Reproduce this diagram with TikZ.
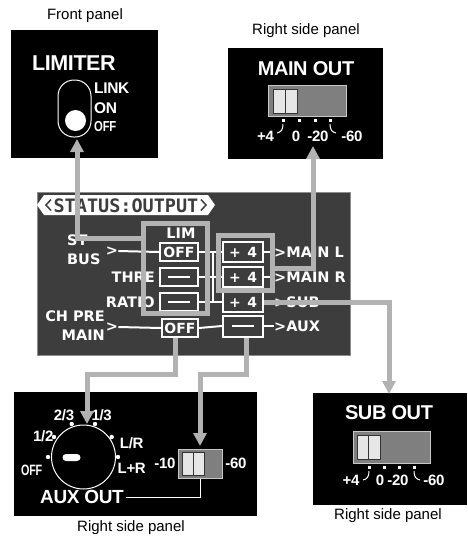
\documentclass[tikz,border=0pt]{standalone}
\usepackage{fontspec}
\setmainfont{Liberation Sans}
\newfontfamily\hbfont[LetterSpace=-2]{Liberation Sans}
\newfontfamily\lcdfont{DejaVu Sans}
\newfontfamily\lcdmonofont{DejaVu Sans Mono}
\usetikzlibrary{arrows.meta}
\definecolor{lcdbg}{HTML}{3D3D3D}
\definecolor{lcdedge}{HTML}{8C8C8C}
\definecolor{guide}{HTML}{B2B2B2}
\definecolor{swbodycol}{HTML}{7F7F7F}
\definecolor{swedgecol}{HTML}{C8C8C8}
\definecolor{swlightcol}{HTML}{E6E6E6}
\definecolor{swlinecol}{HTML}{333333}
\begin{document}
\begin{tikzpicture}[x=1pt,y=-1pt,
 caption/.style={font=\fontsize{15}{17}\selectfont, inner sep=0},
 ptitle/.style={font=\hbfont\bfseries\fontsize{20}{22}\selectfont, text=white, inner sep=0},
 plabel/.style={font=\hbfont\bfseries\fontsize{15}{17}\selectfont, text=white, inner sep=0},
 klabel/.style={font=\hbfont\bfseries\fontsize{15}{17}\selectfont, text=white, inner sep=0},
 lcdtext/.style={font=\lcdfont\bfseries\fontsize{14.5}{19}\selectfont, text=white, inner sep=0},
 lcdbox/.style={draw=white, line width=2pt, minimum width=38pt, minimum height=18pt, inner sep=0, font=\lcdfont\bfseries\fontsize{14}{16}\selectfont, text=white},
 wire/.style={white, line width=2pt},
 thinwire/.style={white, line width=1pt},
 guideframe/.style={draw=guide, line width=5pt, inner sep=0},
 guidearrow/.style={guide, line width=5pt, -{Triangle[width=13pt,length=13pt]}},
 switchbody/.style={fill=swbodycol, draw=swedgecol, line width=1pt, inner sep=0},
 switchknob/.style={fill=swlightcol, draw=swlinecol, line width=1pt},
]
\useasboundingbox (0,0) rectangle (467,539);

% captions
\node[caption] (capfront) at (85,16) {Front panel};
\node[caption] (capmain) at (306,31) {Right side panel};
\node[caption] (capaux) at (131,528) {Right side panel};
\node[caption] (capsub) at (388,516) {Right side panel};

% ---------- Front panel ----------
\fill[black] (11,30) rectangle (158,158);
\node[ptitle, anchor=west, font=\hbfont\bfseries\fontsize{21.5}{24}\selectfont] (limiter) at (32,63) {LIMITER};
\node[draw=white, line width=1pt, fill=black, rounded corners=16pt, minimum width=33pt, minimum height=57pt, inner sep=0] (toggle) at (74.5,108.5) {};
\fill[white] (75.5,120.5) circle (10.5);
\node[plabel, anchor=west, font=\hbfont\bfseries\fontsize{15.5}{17}\selectfont] (link) at (94,88) {LINK};
\node[plabel, anchor=west, font=\hbfont\bfseries\fontsize{15.5}{17}\selectfont] (on) at (94,108) {ON};
\node[plabel, anchor=west, font=\hbfont\bfseries\fontsize{14.5}{17}\selectfont] (off) at (94,127) {\scalebox{0.78}[1]{OFF}};

% ---------- MAIN OUT panel ----------
\fill[black] (228,48) rectangle (383,159);
\node[ptitle] (mainout) at (306,69) {MAIN OUT};
\node[switchbody, minimum width=78pt, minimum height=31pt] (msw) at (307,100.5) {};
\draw[switchknob] (273,89) rectangle (297,113);
\draw[swlinecol, line width=1pt] (285,89) -- (285,113);
\foreach \xx in {283,299,315,330} \fill[white] (\xx-1.5,118.5) rectangle (\xx+1.5,121.5);
\draw[thinwire] (283,124) .. controls (283,130) and (281,132) .. (277,133);
\draw[thinwire] (330,124) .. controls (330,130) and (332,132) .. (336,133);
\node[plabel] (m4) at (265.5,136) {+4};
\node[plabel] (m0) at (296,136) {0};
\node[plabel] (m20) at (318,136) {-20};
\node[plabel] (m60) at (352,136) {-60};

% ---------- LCD ----------
\draw[lcdedge, fill=lcdbg, line width=1pt] (37,192) rectangle (350,355);
\fill[white] (37,205) -- (44,195) -- (208,195) -- (215,205) -- (208,215) -- (44,215) -- cycle;
\draw[lcdbg, line width=1.5pt] (51,199.5) -- (46,205) -- (51,210.5);
\draw[lcdbg, line width=1.5pt] (201,199.5) -- (206,205) -- (201,210.5);
\node[font=\lcdmonofont\bfseries\fontsize{18.5}{20}\selectfont, text=lcdbg, inner sep=0] (banner) at (126,205.5) {STATUS:OUTPUT};

\node[lcdtext] (limlbl) at (181,233) {LIM};
\node[lcdtext, anchor=west, align=left] (stbus) at (67,250) {ST\\BUS};
\node[lcdtext] (stgt) at (112,251) {>};
\node[lcdtext, anchor=east] (threl) at (155,277) {THRE};
\node[lcdtext, anchor=east] (ratiol) at (155,302) {RATIO};
\node[lcdtext, anchor=east, align=right] (chpre) at (105,326) {CH PRE\\MAIN};
\node[lcdtext] (chgt) at (112,327) {>};

\node[lcdbox] (limoff) at (179,252) {OFF};
\node[lcdbox] (thre) at (179,277) {\rule{22pt}{2pt}};
\node[lcdbox] (ratio) at (179,302) {\rule{22pt}{2pt}};
\node[lcdbox, minimum width=36pt] (auxoff) at (180,328) {OFF};
\node[lcdbox, minimum width=40pt, minimum height=20pt] (mainl) at (243,252) {\makebox[28pt]{+\hfill4}};
\node[lcdbox, minimum width=40pt, minimum height=20pt] (mainr) at (243,277) {\makebox[28pt]{+\hfill4}};
\node[lcdbox, minimum width=40pt, minimum height=20pt] (subb) at (243,302) {\makebox[28pt]{+\hfill4}};
\node[lcdbox, minimum width=40pt, minimum height=21pt] (auxb) at (243,326) {\rule{22pt}{2pt}};

\node[lcdtext, anchor=west] (tmainl) at (274,252) {>MAIN L};
\node[lcdtext, anchor=west] (tmainr) at (274,277) {>MAIN R};
\node[lcdtext, anchor=west] (tsub) at (274,302) {>SUB};
\node[lcdtext, anchor=west] (taux) at (274,326) {>AUX};

\draw[wire] (stgt.east) -- (limoff.west);
\draw[wire] (chgt.east) -- (auxoff.west);
\draw[wire] (limoff.east) -- (mainl.west);
\draw[wire] (thre.east) -- (mainr.west);
\draw[wire] (ratio.east) -- (subb.west);
\coordinate (bustop) at (213,252);
\coordinate (busbot) at (213,302);
\draw[wire] (bustop) -- (busbot);
\draw[wire] (auxoff.east) -- (auxb.west);
\draw[wire] (mainl.east) -- (tmainl.west);
\draw[wire] (mainr.east) -- (tmainr.west);
\draw[wire] (subb.east) -- (tsub.west);
\draw[wire] (auxb.east) -- (taux.west);

% ---------- AUX OUT panel ----------
\fill[black] (14,392) rectangle (257,516);
\node[draw=white, line width=1pt, circle, minimum size=64pt, inner sep=0] (knob) at (83.5,457) {};
\fill[white, rounded corners=3.5pt] (62.5,454) rectangle (80.5,461);
\foreach \px/\py in {48/457,54/437,71.7/424,95/424,111.7/437,118/457} \fill[white] (\px,\py) circle (2.2);
\node[klabel] (koff) at (31.7,470) {\scalebox{0.72}[1]{OFF}};
\node[klabel] (khalf) at (43.3,436) {1/2};
\node[klabel] (ktwo) at (64,415) {2/3};
\node[klabel] (kthird) at (101.7,415) {1/3};
\node[klabel] (klr) at (131.7,443) {L/R};
\node[klabel] (klpr) at (131.7,468) {L+R};
\node[ptitle, font=\hbfont\bfseries\fontsize{19}{21}\selectfont] (auxout) at (82,497) {AUX OUT};
\node[switchbody, minimum width=44pt, minimum height=29pt] (auxsw) at (200,463.5) {};
\draw[switchknob] (182,452) rectangle (204,475);
\draw[swlinecol, line width=1pt] (193,452) -- (193,475);
\node[plabel] (a10) at (165,463) {-10};
\node[plabel] (a60) at (236,463) {-60};
\coordinate (aw1) at (126,497);
\coordinate (aw2) at (200,497);
\draw[thinwire] (aw1) -- (aw2) -- (auxsw.south);

% ---------- SUB OUT panel ----------
\fill[black] (313,393) rectangle (467,505);
\node[ptitle] (subout) at (389,413) {SUB OUT};
\node[switchbody, minimum width=77pt, minimum height=32pt] (ssw) at (391.5,447) {};
\draw[switchknob] (357,435) rectangle (380,459);
\draw[swlinecol, line width=1pt] (368.5,435) -- (368.5,459);
\foreach \xx in {369,384,399,414} \fill[white] (\xx-1.5,465.5) rectangle (\xx+1.5,468.5);
\draw[thinwire] (369,471) .. controls (369,477) and (367,479) .. (363,480);
\draw[thinwire] (414,471) .. controls (414,477) and (416,479) .. (420,480);
\node[plabel] (s4) at (351,480) {+4};
\node[plabel] (s0) at (380,480) {0};
\node[plabel] (s20) at (398,480) {-20};
\node[plabel] (s60) at (434,480) {-60};

% ---------- grey guides ----------
\node[guideframe, minimum width=64pt, minimum height=90pt] (limframe) at (175,268) {};
\node[guideframe, minimum width=54pt, minimum height=55pt] (mainframe) at (245,262.5) {};

\coordinate (fpturn) at (77,238);
\coordinate (fptip) at (77,139);
\draw[guidearrow] (limframe.west |- fpturn) -- (fpturn) -- (fptip);

\coordinate (moturn) at (313,268);
\coordinate (motip) at (313,146);
\draw[guidearrow] (mainframe.east |- moturn) -- (moturn) -- (motip);

\coordinate (sbturn) at (389,302);
\coordinate (sbtip) at (389,394);
\draw[guidearrow] (subb.east) -- (sbturn) -- (sbtip);

\coordinate (ag1a) at (175,374);
\coordinate (ag1b) at (87,374);
\coordinate (ag1tip) at (87,424);
\draw[guidearrow] (ag1a |- auxoff.south) -- (ag1a) -- (ag1b) -- (ag1tip);

\coordinate (ag2a) at (246,374);
\coordinate (ag2b) at (200,374);
\coordinate (ag2tip) at (200,446);
\draw[guidearrow] (ag2a |- auxb.south) -- (ag2a) -- (ag2b) -- (ag2tip);
\end{tikzpicture}
\end{document}
